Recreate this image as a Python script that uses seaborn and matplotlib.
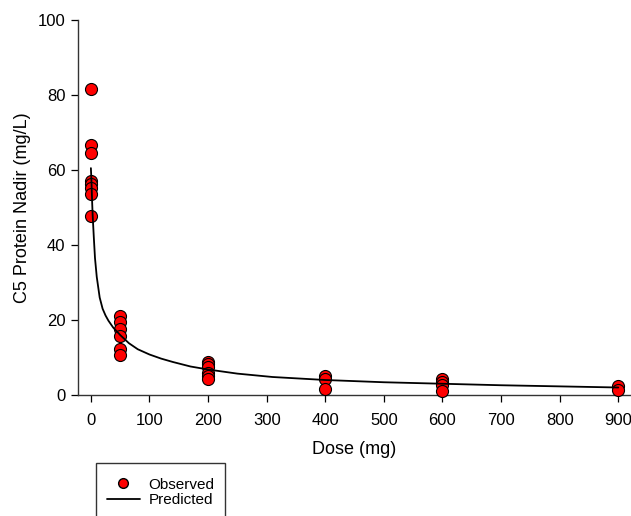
import matplotlib
matplotlib.use("Agg")
import matplotlib.pyplot as plt
import seaborn as sns
import pandas as pd
from matplotlib.patches import Rectangle
from matplotlib.lines import Line2D

# observed nadir values, per dose group
obs_dose = ([0] * 8 + [50] * 6 + [200] * 6 + [400] * 3 + [600] * 4 + [900] * 2)
obs_c5 = [81.5, 66.8, 64.6, 57.0, 56.2, 55.3, 53.6, 47.7,
          21.0, 19.5, 17.5, 15.8, 12.2, 10.8,
          8.8, 8.2, 7.5, 5.8, 5.0, 4.3,
          5.2, 4.4, 1.7,
          4.3, 3.4, 2.6, 1.2,
          2.3, 1.4]

# model prediction
pred_dose = [0, 1, 2, 3, 5, 7, 10, 15, 20, 25, 30, 38, 50, 65, 80, 100, 120,
             140, 170, 200, 250, 310, 400, 500, 600, 700, 800, 900]
pred_c5 = [60.5, 57.0, 52.0, 48.0, 42.0, 36.5, 31.5, 26.0, 23.0, 21.2, 19.8,
           18.0, 16.0, 13.8, 12.2, 10.8, 9.7, 8.8, 7.6, 6.8, 5.7, 4.8, 4.0,
           3.4, 3.0, 2.6, 2.3, 2.0]

x_ticks = [0, 100, 200, 300, 400, 500, 600, 700, 800, 900]
y_ticks = [0, 20, 40, 60, 80, 100]

sns.set_style("ticks")
plt.rcParams["font.family"] = ["Liberation Sans", "DejaVu Sans"]
plt.rcParams["text.color"] = "black"
plt.rcParams["axes.labelcolor"] = "black"

obs = pd.DataFrame({"dose": obs_dose, "c5": obs_c5})
pred = pd.DataFrame({"dose": pred_dose, "c5": pred_c5})

fig = plt.figure(figsize=(6.31, 5.16), dpi=100)
ax = fig.add_axes([78 / 631, 1 - 395 / 516, 552 / 631, 375 / 516])

sns.scatterplot(data=obs, x="dose", y="c5", ax=ax, s=75, color="#ff0000",
                edgecolor="black", linewidth=0.8, zorder=3, clip_on=False)
sns.lineplot(data=pred, x="dose", y="c5", ax=ax, color="black", lw=1.3,
             zorder=4)

ax.set_xlim(-22, 920)
ax.set_ylim(0, 100)
ax.set_xticks(x_ticks)
ax.set_yticks(y_ticks)
ax.tick_params(direction="out", length=5, width=0.9, labelsize=12,
               colors="black", pad=4)
ax.tick_params(axis="x", pad=8)
for side in ("top", "right"):
    ax.spines[side].set_visible(False)
for side in ("left", "bottom"):
    ax.spines[side].set_linewidth(1.0)
    ax.spines[side].set_color("#333333")

ax.set_xlabel("Dose (mg)", fontsize=13, labelpad=9)
ax.set_ylabel("C5 Protein Nadir (mg/L)", fontsize=13, labelpad=5)

# legend box, cut off by the bottom edge as in the original
fig.patches.append(Rectangle((96 / 631, -0.05), 129 / 631, 1 - 463 / 516 + 0.05,
                             transform=fig.transFigure, fill=False,
                             edgecolor="#333333", lw=1.0))
handles = [Line2D([], [], ls="none", marker="o", markersize=7,
                  markerfacecolor="#ff0000", markeredgecolor="black"),
           Line2D([], [], color="black", lw=1.3)]
fig.legend(handles, ["Observed", "Predicted"], loc="upper left",
           bbox_to_anchor=(99 / 631, 1 - 470 / 516), frameon=False,
           fontsize=11, handlelength=2.2, handletextpad=0.55,
           labelspacing=0.1, borderpad=0)

fig.savefig("out.png", dpi=100)
